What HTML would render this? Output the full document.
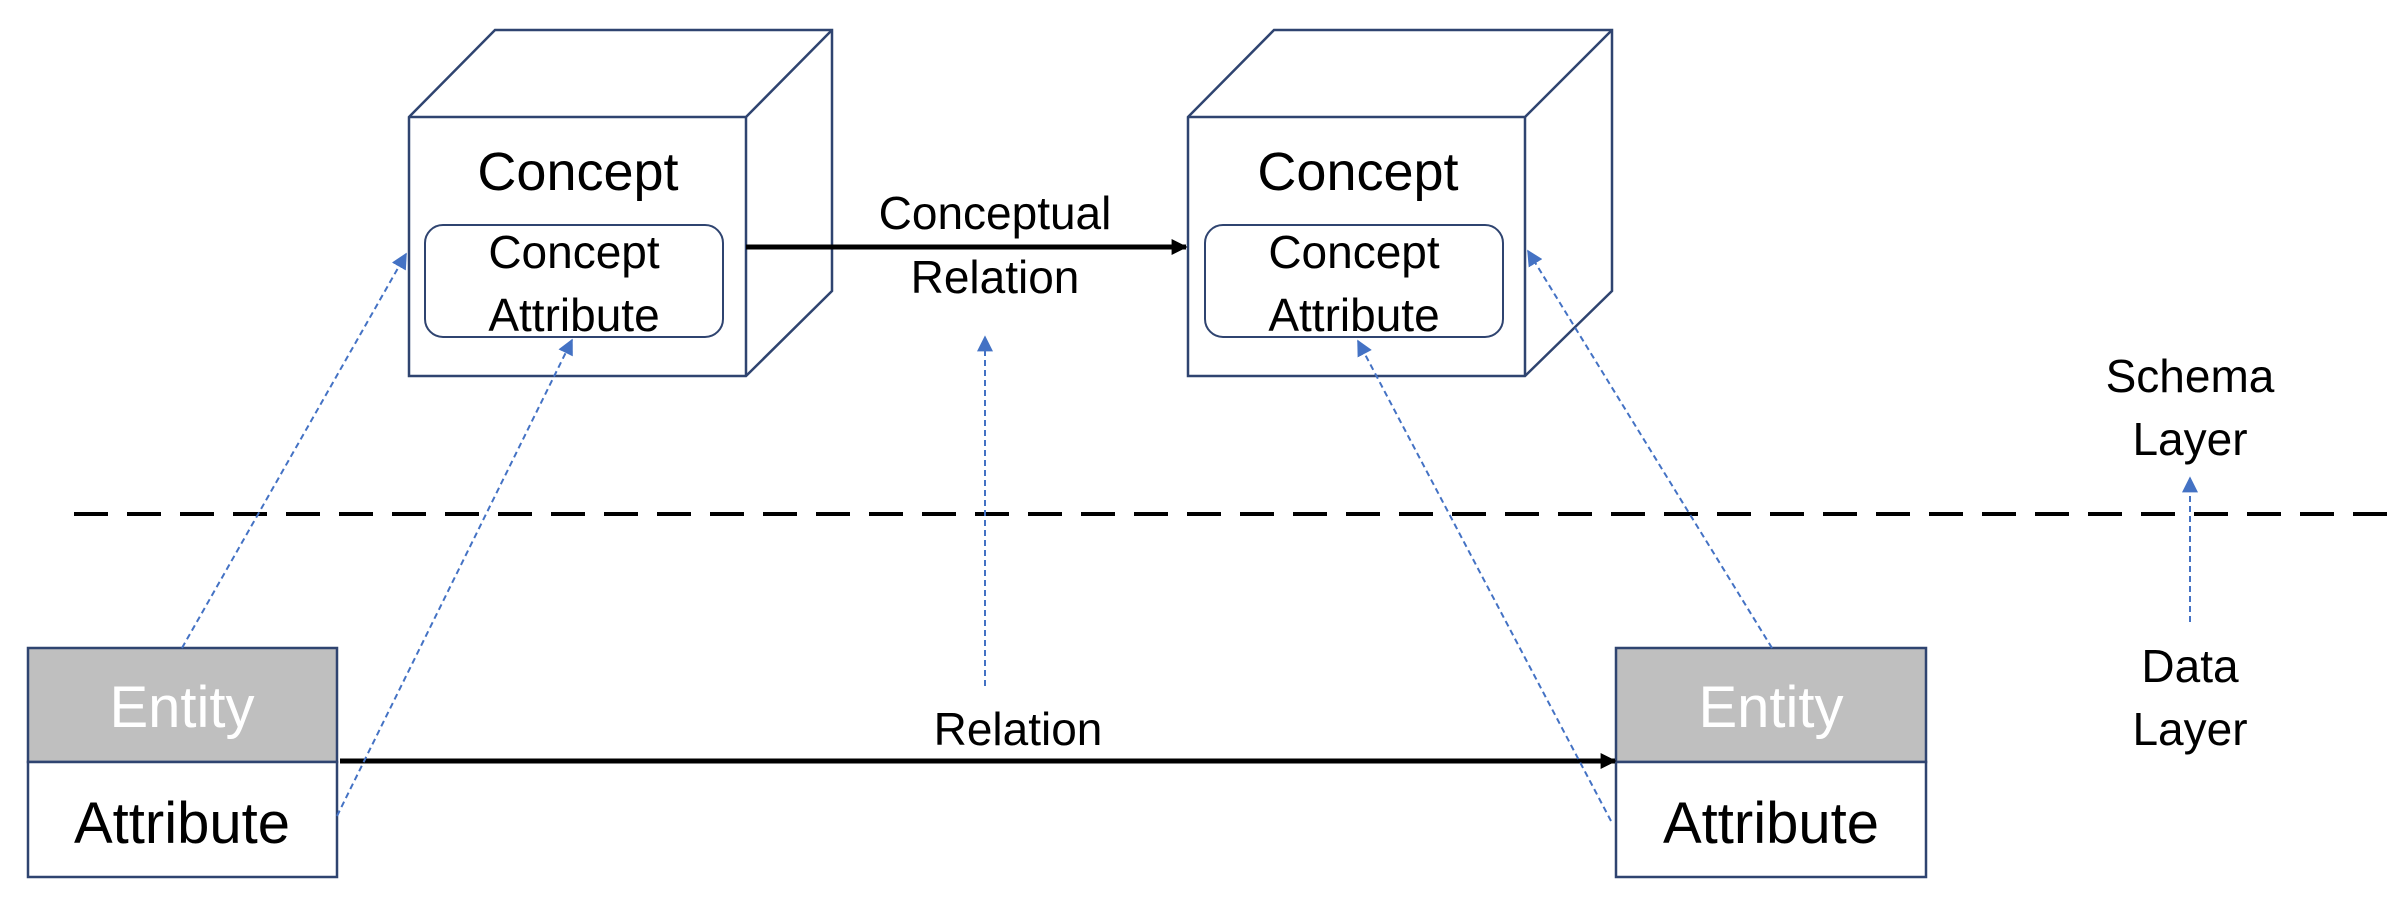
<!DOCTYPE html>
<html><head><meta charset="utf-8"><style>
html,body{margin:0;padding:0;background:#fff;}
svg{display:block;}
text{font-family:"Liberation Sans",sans-serif;text-anchor:middle;}
</style></head><body>
<svg width="2394" height="903" viewBox="0 0 2394 903" xmlns="http://www.w3.org/2000/svg">
<defs>
<marker id="bk" viewBox="0 0 10 10" refX="9" refY="5" markerWidth="18" markerHeight="16" orient="auto" markerUnits="userSpaceOnUse"><path d="M0,0 L10,5 L0,10 z" fill="#000"/></marker>
<marker id="bl" viewBox="0 0 10 10" refX="9" refY="5" markerWidth="16" markerHeight="16" orient="auto" markerUnits="userSpaceOnUse"><path d="M0,0 L10,5 L0,10 z" fill="#4472c4"/></marker>
</defs>
<g fill="#fff" stroke="#2f4470" stroke-width="2.5" stroke-linejoin="miter">
<polygon points="409,117 495,30 832,30 832,291 746,376 409,376"/>
<polyline points="409,117 746,117 832,30" fill="none"/>
<line x1="746" y1="117" x2="746" y2="376"/>
<polygon points="1188,117 1274,30 1612,30 1612,291 1525,376 1188,376"/>
<polyline points="1188,117 1525,117 1612,30" fill="none"/>
<line x1="1525" y1="117" x2="1525" y2="376"/>
</g>
<g fill="#fff" stroke="#2f4470" stroke-width="2">
<rect x="425" y="225" width="298" height="112" rx="18"/>
<rect x="1205" y="225" width="298" height="112" rx="18"/>
</g>
<g font-size="54" fill="#000">
<text x="578" y="190">Concept</text>
<text x="1358" y="190">Concept</text>
</g>
<g font-size="46" fill="#000">
<text x="574" y="268">Concept</text>
<text x="574" y="331">Attribute</text>
<text x="1354" y="268">Concept</text>
<text x="1354" y="331">Attribute</text>
<text x="995" y="229">Conceptual</text>
<text x="995" y="293">Relation</text>
<text x="1018" y="745">Relation</text>
<text x="2190" y="392">Schema</text>
<text x="2190" y="455">Layer</text>
<text x="2190" y="682">Data</text>
<text x="2190" y="745">Layer</text>
</g>
<g stroke="#2f4470" stroke-width="2.5">
<rect x="28" y="648" width="309" height="114" fill="#bfbfbf"/>
<rect x="28" y="762" width="309" height="115" fill="#fff"/>
<rect x="1616" y="648" width="310" height="114" fill="#bfbfbf"/>
<rect x="1616" y="762" width="310" height="115" fill="#fff"/>
</g>
<g font-size="58">
<text x="182" y="727" fill="#fff">Entity</text>
<text x="182" y="843" fill="#000">Attribute</text>
<text x="1771" y="727" fill="#fff">Entity</text>
<text x="1771" y="843" fill="#000">Attribute</text>
</g>
<line x1="746" y1="247" x2="1186" y2="247" stroke="#000" stroke-width="5" marker-end="url(#bk)"/>
<line x1="340" y1="761" x2="1615" y2="761" stroke="#000" stroke-width="5" marker-end="url(#bk)"/>
<line x1="74" y1="514" x2="2394" y2="514" stroke="#000" stroke-width="4" stroke-dasharray="34,19"/>
<g stroke="#4472c4" stroke-width="2" stroke-dasharray="6,4" fill="none">
<line x1="182" y1="648" x2="406" y2="254" marker-end="url(#bl)"/>
<line x1="337" y1="816" x2="572" y2="340" marker-end="url(#bl)"/>
<line x1="985" y1="686" x2="985" y2="337" marker-end="url(#bl)"/>
<line x1="1611" y1="821" x2="1358" y2="341" marker-end="url(#bl)"/>
<line x1="1772" y1="648" x2="1528" y2="251" marker-end="url(#bl)"/>
<line x1="2190" y1="622" x2="2190" y2="478" marker-end="url(#bl)"/>
</g>
</svg>
</body></html>
